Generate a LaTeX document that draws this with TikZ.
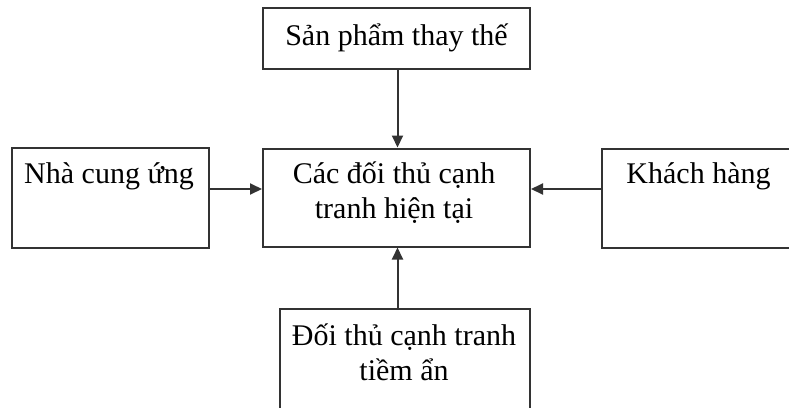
\documentclass[tikz,border=0pt]{standalone}
\usepackage{fontspec}
\setmainfont{Liberation Serif}
\usetikzlibrary{arrows.meta}
\definecolor{linegray}{HTML}{333333}
\tikzset{
  box/.style={draw=linegray, line width=2pt, rectangle, inner sep=0pt, fill=white},
  lbl/.style={inner sep=0pt, font=\fontsize{30}{34.5}\selectfont, align=center, anchor=base, text=black},
  arr/.style={draw=linegray, line width=2pt, -{Triangle[length=12pt,width=11pt]}}
}
\begin{document}
\begin{tikzpicture}[x=1pt,y=-1pt]
\useasboundingbox (0,0) rectangle (789,407);
\clip (0,0) rectangle (789,407);
\node[box, minimum width=267pt, minimum height=61pt] (top) at (396.5,38.5) {};
\node[box, minimum width=267pt, minimum height=98pt] (mid) at (396.5,197.5) {};
\node[box, minimum width=197pt, minimum height=100pt] (left) at (110.5,198) {};
\node[box, minimum width=208pt, minimum height=99pt] (right) at (706,198.5) {};
\node[box, minimum width=250pt, minimum height=121pt] (bot) at (405,369.5) {};
\node[lbl] (ttop) at (396.5,45) {Sản phẩm thay thế};
\node[lbl] (tmid) at (394,218) {Các đối thủ cạnh\\tranh hiện tại};
\node[lbl] (tleft) at (109,183) {Nhà cung ứng};
\node[lbl] (tright) at (698.5,183) {Khách hàng};
\node[lbl] (tbot) at (404,380) {Đối thủ cạnh tranh\\tiềm ẩn};
\draw[arr] ([xshift=1pt]top.south) -- ([xshift=1pt]mid.north);
\draw[arr] ([yshift=9pt]left.east) -- ([yshift=8.5pt]mid.west);
\draw[arr] ([yshift=9.5pt]right.west) -- ([yshift=8.5pt]mid.east);
\draw[arr] ([xshift=1pt]mid.south |- bot.north) -- ([xshift=1pt]mid.south);
\end{tikzpicture}
\end{document}
